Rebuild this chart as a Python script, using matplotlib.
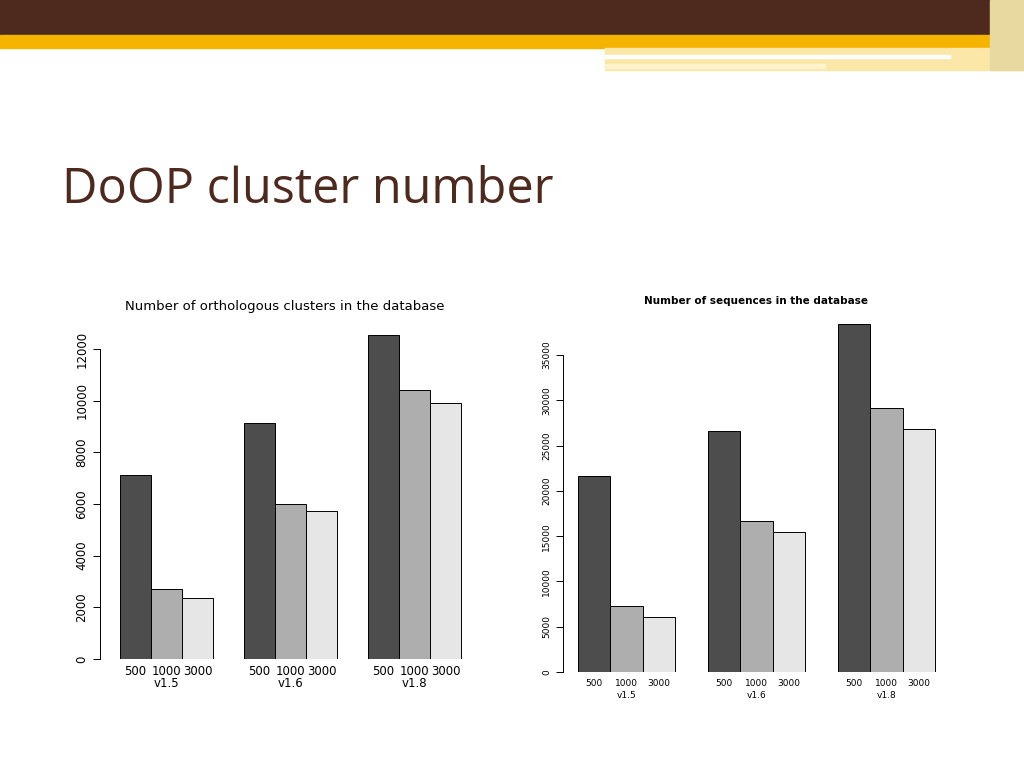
import matplotlib
matplotlib.use("Agg")
import matplotlib.pyplot as plt
from matplotlib.patches import Rectangle

versions = ["v1.5", "v1.6", "v1.8"]
thresholds = ["500", "1000", "3000"]
clusters = {"500": [7120, 9140, 12540], "1000": [2710, 6000, 10410], "3000": [2360, 5730, 9910]}
sequences = {"500": [21640, 26610, 38420], "1000": [7290, 16670, 29150], "3000": [6070, 15460, 26830]}
colors = ["#4D4D4D", "#AEAEAE", "#E6E6E6"]

W, H = 1024, 768
fig = plt.figure(figsize=(10.24, 7.68), dpi=100)

def fr(x, y, w, h, c):
    fig.patches.append(Rectangle((x / W, 1 - (y + h) / H), w / W, h / H, color=c,
                                 transform=fig.transFigure, zorder=0))

fr(0, 0, 1024, 35, "#4E2A1E")
fr(0, 35, 1024, 13, "#F5B400")
fr(605, 48, 419, 22, "#FBE7A8")
fr(605, 55, 345, 3, "#FFFFFF")
fr(605, 64, 220, 4, "#FFF3CC")
fr(990, 0, 34, 70, "#E8D9A0")

fig.text(62 / W, 1 - 190 / H, "DoOP cluster number", fontsize=35, color="#4E2A1E",
         va="center", ha="left", family="Open Sans")

def panel(rect_px, data, ylim_top, bound, ticks, tfs, title, title_y, title_fs, bold):
    l, t, r, b = rect_px
    ax = fig.add_axes([l / W, 1 - b / H, (r - l) / W, (b - t) / H])
    starts = [0, 4, 8]
    for gi, v in enumerate(versions):
        for ti, th in enumerate(thresholds):
            ax.bar(starts[gi] + ti + 0.5, data[th][gi], width=1, color=colors[ti],
                   edgecolor="black", linewidth=0.7)
            ax.text(starts[gi] + ti + 0.5, -0.02 * ylim_top, th, ha="center", va="top",
                    fontsize=tfs, transform=ax.transData)
        ax.text(starts[gi] + 1.5, -0.055 * ylim_top, v, ha="center", va="top", fontsize=tfs)
    ax.set_ylim(0, ylim_top)
    return ax

def style(ax, xl, ylim_top, bound, ticks, tfs, title, ty, tsize, bold):
    ax.set_xlim(*xl)
    for s in ["top", "right", "bottom"]:
        ax.spines[s].set_visible(False)
    ax.spines["left"].set_bounds(0, bound)
    ax.spines["left"].set_linewidth(0.7)
    ax.set_xticks([])
    ax.set_yticks(ticks)
    ax.set_yticklabels([str(t) for t in ticks], rotation=90, va="center", fontsize=tfs)
    ax.tick_params(axis="y", length=5, width=0.7)
    fig.text(ax.get_position().x0 + ax.get_position().width / 2 + 0.0, 1 - ty / H, title,
             ha="center", va="center", fontsize=tsize, fontweight="bold" if bold else "normal")

ax1 = panel((100, 335, 470, 659), clusters, 12540, 12000, None, 8.5, "", 0, 0, False)
style(ax1, (-0.645, 11.29), 12540, 12000, list(range(0, 12001, 2000)), 8.5,
      "Number of orthologous clusters in the database", 307, 9.5, False)
ax2 = panel((563, 324, 950, 672), sequences, 38420, 35000, None, 6.5, "", 0, 0, False)
style(ax2, (-0.46, 11.45), 38420, 35000, list(range(0, 35001, 5000)), 6.5,
      "Number of sequences in the database", 301, 7.5, True)

fig.savefig("out.png", dpi=100)
